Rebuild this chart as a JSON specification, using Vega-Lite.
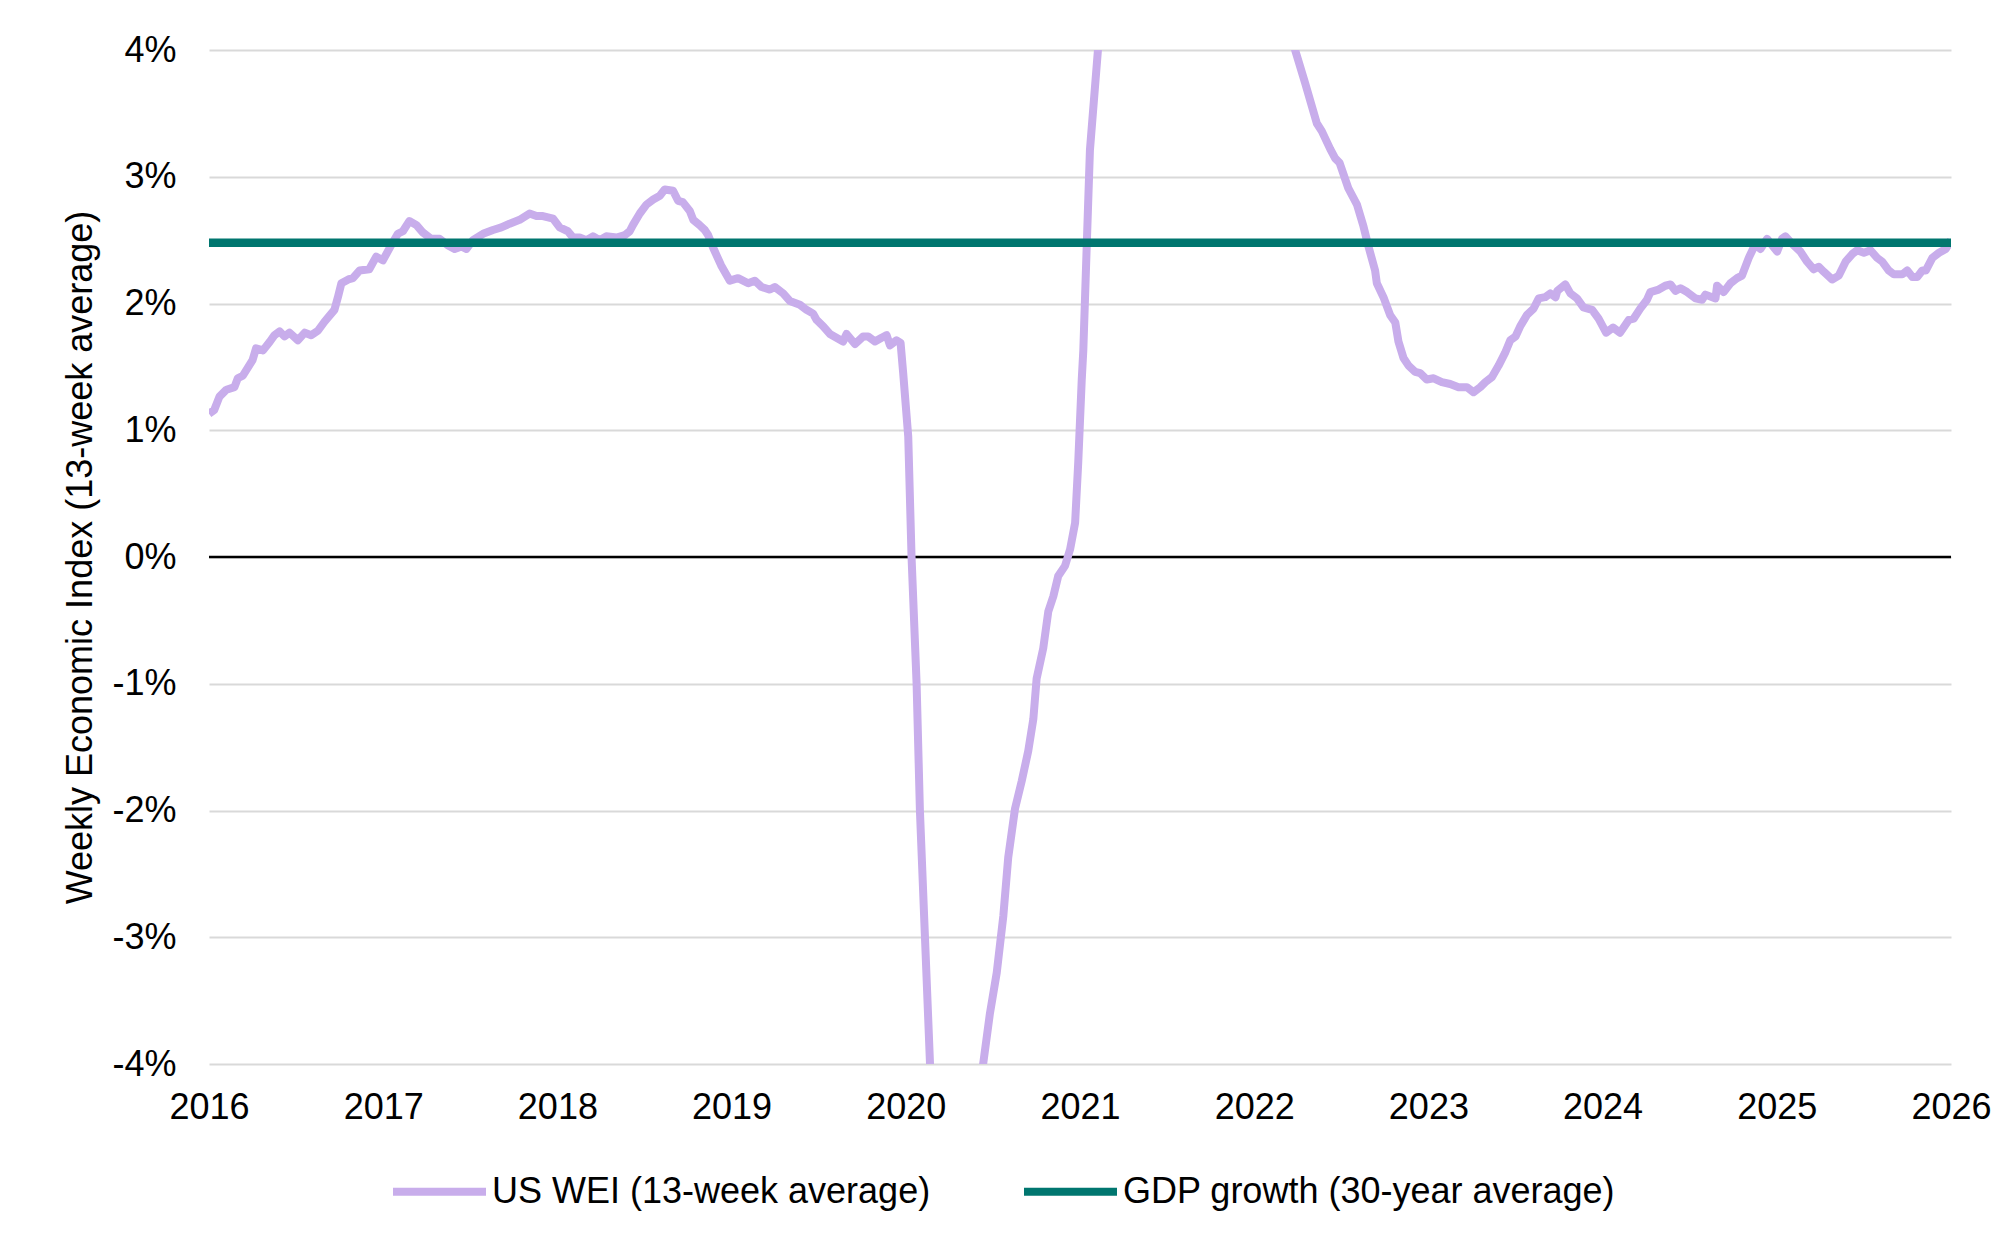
{
  "$schema": "https://vega.github.io/schema/vega-lite/v6.json",
  "width": 1742,
  "height": 1014,
  "autosize": {"type": "none"},
  "padding": {"left": 209, "top": 50, "right": 52, "bottom": 188},
  "background": "white",
  "datasets": {
    "wei": [
      {"year": 2016.0, "value": 1.13}, {"year": 2016.03, "value": 1.16}, {"year": 2016.06, "value": 1.265},
      {"year": 2016.1, "value": 1.32}, {"year": 2016.146, "value": 1.34}, {"year": 2016.165, "value": 1.41},
      {"year": 2016.194, "value": 1.43}, {"year": 2016.25, "value": 1.554}, {"year": 2016.27, "value": 1.646},
      {"year": 2016.31, "value": 1.63}, {"year": 2016.35, "value": 1.7}, {"year": 2016.376, "value": 1.75},
      {"year": 2016.405, "value": 1.78}, {"year": 2016.434, "value": 1.74}, {"year": 2016.462, "value": 1.77},
      {"year": 2016.51, "value": 1.71}, {"year": 2016.55, "value": 1.77}, {"year": 2016.587, "value": 1.75},
      {"year": 2016.625, "value": 1.785}, {"year": 2016.663, "value": 1.856}, {"year": 2016.72, "value": 1.95},
      {"year": 2016.74, "value": 2.05}, {"year": 2016.76, "value": 2.16}, {"year": 2016.8, "value": 2.19},
      {"year": 2016.826, "value": 2.2}, {"year": 2016.864, "value": 2.26}, {"year": 2016.92, "value": 2.27},
      {"year": 2016.96, "value": 2.37}, {"year": 2016.998, "value": 2.34}, {"year": 2017.046, "value": 2.46},
      {"year": 2017.084, "value": 2.55}, {"year": 2017.113, "value": 2.57}, {"year": 2017.15, "value": 2.65},
      {"year": 2017.19, "value": 2.62}, {"year": 2017.228, "value": 2.56}, {"year": 2017.276, "value": 2.51},
      {"year": 2017.324, "value": 2.51}, {"year": 2017.37, "value": 2.46}, {"year": 2017.41, "value": 2.43},
      {"year": 2017.449, "value": 2.45}, {"year": 2017.477, "value": 2.43}, {"year": 2017.515, "value": 2.5},
      {"year": 2017.573, "value": 2.55}, {"year": 2017.63, "value": 2.58}, {"year": 2017.678, "value": 2.6},
      {"year": 2017.726, "value": 2.63}, {"year": 2017.783, "value": 2.66}, {"year": 2017.84, "value": 2.71},
      {"year": 2017.88, "value": 2.69}, {"year": 2017.917, "value": 2.69}, {"year": 2017.975, "value": 2.67},
      {"year": 2018.013, "value": 2.6}, {"year": 2018.06, "value": 2.57}, {"year": 2018.09, "value": 2.52},
      {"year": 2018.128, "value": 2.52}, {"year": 2018.167, "value": 2.5}, {"year": 2018.204, "value": 2.53},
      {"year": 2018.243, "value": 2.5}, {"year": 2018.28, "value": 2.53}, {"year": 2018.34, "value": 2.52},
      {"year": 2018.387, "value": 2.54}, {"year": 2018.415, "value": 2.57}, {"year": 2018.434, "value": 2.62},
      {"year": 2018.473, "value": 2.71}, {"year": 2018.511, "value": 2.78}, {"year": 2018.55, "value": 2.82},
      {"year": 2018.588, "value": 2.85}, {"year": 2018.616, "value": 2.9}, {"year": 2018.664, "value": 2.89},
      {"year": 2018.693, "value": 2.81}, {"year": 2018.72, "value": 2.8}, {"year": 2018.76, "value": 2.73},
      {"year": 2018.78, "value": 2.66}, {"year": 2018.815, "value": 2.62}, {"year": 2018.846, "value": 2.58},
      {"year": 2018.865, "value": 2.54}, {"year": 2018.894, "value": 2.44}, {"year": 2018.94, "value": 2.3},
      {"year": 2018.99, "value": 2.18}, {"year": 2019.037, "value": 2.2}, {"year": 2019.095, "value": 2.16},
      {"year": 2019.133, "value": 2.18}, {"year": 2019.172, "value": 2.13}, {"year": 2019.22, "value": 2.11},
      {"year": 2019.248, "value": 2.13}, {"year": 2019.296, "value": 2.08}, {"year": 2019.334, "value": 2.02},
      {"year": 2019.392, "value": 1.99}, {"year": 2019.43, "value": 1.95}, {"year": 2019.468, "value": 1.92},
      {"year": 2019.488, "value": 1.87}, {"year": 2019.526, "value": 1.82}, {"year": 2019.564, "value": 1.76},
      {"year": 2019.602, "value": 1.73}, {"year": 2019.64, "value": 1.7}, {"year": 2019.66, "value": 1.76},
      {"year": 2019.708, "value": 1.68}, {"year": 2019.755, "value": 1.74}, {"year": 2019.784, "value": 1.74},
      {"year": 2019.823, "value": 1.7}, {"year": 2019.861, "value": 1.73}, {"year": 2019.89, "value": 1.75},
      {"year": 2019.909, "value": 1.67}, {"year": 2019.947, "value": 1.71}, {"year": 2019.97, "value": 1.69},
      {"year": 2019.985, "value": 1.45}, {"year": 2020.014, "value": 0.95}, {"year": 2020.033, "value": 0.0},
      {"year": 2020.062, "value": -1.0}, {"year": 2020.081, "value": -2.0}, {"year": 2020.11, "value": -3.0},
      {"year": 2020.139, "value": -4.0}, {"year": 2020.2, "value": -6.5}, {"year": 2020.28, "value": -8.8},
      {"year": 2020.35, "value": -7.5}, {"year": 2020.41, "value": -5.2}, {"year": 2020.444, "value": -4.0},
      {"year": 2020.483, "value": -3.6}, {"year": 2020.522, "value": -3.28}, {"year": 2020.56, "value": -2.83},
      {"year": 2020.588, "value": -2.37}, {"year": 2020.627, "value": -1.985}, {"year": 2020.665, "value": -1.77},
      {"year": 2020.703, "value": -1.53}, {"year": 2020.732, "value": -1.28}, {"year": 2020.751, "value": -0.96},
      {"year": 2020.789, "value": -0.72}, {"year": 2020.818, "value": -0.43}, {"year": 2020.847, "value": -0.31},
      {"year": 2020.875, "value": -0.15}, {"year": 2020.914, "value": -0.07}, {"year": 2020.943, "value": 0.06},
      {"year": 2020.972, "value": 0.27}, {"year": 2020.99, "value": 0.75}, {"year": 2021.01, "value": 1.4},
      {"year": 2021.019, "value": 1.63}, {"year": 2021.039, "value": 2.47}, {"year": 2021.057, "value": 3.21},
      {"year": 2021.103, "value": 4.0}, {"year": 2021.15, "value": 5.5}, {"year": 2021.3, "value": 8.0},
      {"year": 2021.45, "value": 9.0}, {"year": 2021.6, "value": 8.5}, {"year": 2021.8, "value": 7.0},
      {"year": 2022.0, "value": 5.6}, {"year": 2022.1, "value": 4.9}, {"year": 2022.2, "value": 4.25},
      {"year": 2022.235, "value": 4.0}, {"year": 2022.292, "value": 3.74}, {"year": 2022.36, "value": 3.42},
      {"year": 2022.388, "value": 3.36}, {"year": 2022.436, "value": 3.22}, {"year": 2022.465, "value": 3.145},
      {"year": 2022.49, "value": 3.11}, {"year": 2022.54, "value": 2.91}, {"year": 2022.59, "value": 2.78},
      {"year": 2022.627, "value": 2.61}, {"year": 2022.656, "value": 2.45}, {"year": 2022.694, "value": 2.26},
      {"year": 2022.704, "value": 2.16}, {"year": 2022.742, "value": 2.05}, {"year": 2022.78, "value": 1.91},
      {"year": 2022.81, "value": 1.85}, {"year": 2022.828, "value": 1.7}, {"year": 2022.857, "value": 1.57},
      {"year": 2022.886, "value": 1.51}, {"year": 2022.924, "value": 1.46}, {"year": 2022.953, "value": 1.45},
      {"year": 2022.991, "value": 1.4}, {"year": 2023.03, "value": 1.41}, {"year": 2023.077, "value": 1.38},
      {"year": 2023.125, "value": 1.365}, {"year": 2023.173, "value": 1.34}, {"year": 2023.221, "value": 1.34},
      {"year": 2023.259, "value": 1.3}, {"year": 2023.298, "value": 1.34}, {"year": 2023.327, "value": 1.38},
      {"year": 2023.365, "value": 1.42}, {"year": 2023.403, "value": 1.51}, {"year": 2023.44, "value": 1.61},
      {"year": 2023.47, "value": 1.71}, {"year": 2023.5, "value": 1.74}, {"year": 2023.527, "value": 1.82},
      {"year": 2023.566, "value": 1.91}, {"year": 2023.604, "value": 1.96}, {"year": 2023.633, "value": 2.04},
      {"year": 2023.67, "value": 2.05}, {"year": 2023.7, "value": 2.08}, {"year": 2023.73, "value": 2.05},
      {"year": 2023.74, "value": 2.1}, {"year": 2023.786, "value": 2.15}, {"year": 2023.815, "value": 2.08},
      {"year": 2023.853, "value": 2.04}, {"year": 2023.89, "value": 1.97}, {"year": 2023.94, "value": 1.95},
      {"year": 2023.977, "value": 1.88}, {"year": 2024.02, "value": 1.77}, {"year": 2024.06, "value": 1.81},
      {"year": 2024.1, "value": 1.77}, {"year": 2024.15, "value": 1.87}, {"year": 2024.178, "value": 1.88},
      {"year": 2024.216, "value": 1.96}, {"year": 2024.255, "value": 2.03}, {"year": 2024.274, "value": 2.09},
      {"year": 2024.322, "value": 2.11}, {"year": 2024.36, "value": 2.14}, {"year": 2024.39, "value": 2.15},
      {"year": 2024.418, "value": 2.1}, {"year": 2024.447, "value": 2.12}, {"year": 2024.485, "value": 2.09},
      {"year": 2024.533, "value": 2.04}, {"year": 2024.571, "value": 2.03}, {"year": 2024.59, "value": 2.07},
      {"year": 2024.648, "value": 2.04}, {"year": 2024.657, "value": 2.14}, {"year": 2024.695, "value": 2.09},
      {"year": 2024.734, "value": 2.16}, {"year": 2024.772, "value": 2.2}, {"year": 2024.8, "value": 2.22},
      {"year": 2024.839, "value": 2.36}, {"year": 2024.877, "value": 2.47}, {"year": 2024.906, "value": 2.43},
      {"year": 2024.944, "value": 2.51}, {"year": 2024.973, "value": 2.46}, {"year": 2025.002, "value": 2.41},
      {"year": 2025.03, "value": 2.51}, {"year": 2025.05, "value": 2.53}, {"year": 2025.088, "value": 2.47},
      {"year": 2025.135, "value": 2.41}, {"year": 2025.174, "value": 2.33}, {"year": 2025.212, "value": 2.27},
      {"year": 2025.24, "value": 2.29}, {"year": 2025.27, "value": 2.25}, {"year": 2025.318, "value": 2.19},
      {"year": 2025.356, "value": 2.22}, {"year": 2025.395, "value": 2.33}, {"year": 2025.433, "value": 2.39},
      {"year": 2025.462, "value": 2.42}, {"year": 2025.5, "value": 2.4}, {"year": 2025.538, "value": 2.42},
      {"year": 2025.576, "value": 2.36}, {"year": 2025.605, "value": 2.33}, {"year": 2025.643, "value": 2.26},
      {"year": 2025.672, "value": 2.23}, {"year": 2025.72, "value": 2.23}, {"year": 2025.749, "value": 2.26},
      {"year": 2025.778, "value": 2.21}, {"year": 2025.807, "value": 2.21}, {"year": 2025.835, "value": 2.26},
      {"year": 2025.855, "value": 2.26}, {"year": 2025.893, "value": 2.36}, {"year": 2025.931, "value": 2.4},
      {"year": 2025.97, "value": 2.43}, {"year": 2026.0, "value": 2.5}
    ],
    "gdp": [
      {"year": 2016, "value": 2.48},
      {"year": 2026, "value": 2.48}
    ],
    "zero": [
      {"value": 0}
    ]
  },
  "encoding": {
    "x": {
      "field": "year",
      "type": "quantitative",
      "scale": {"domain": [2016, 2026], "nice": false, "zero": false},
      "axis": {
        "values": [2016, 2017, 2018, 2019, 2020, 2021, 2022, 2023, 2024, 2025, 2026],
        "format": "d",
        "title": null,
        "grid": false,
        "domain": false,
        "ticks": false,
        "tickSize": 0,
        "labelPadding": 26,
        "labelFlush": false,
        "labelOverlap": false
      }
    },
    "y": {
      "field": "value",
      "type": "quantitative",
      "scale": {"domain": [-4, 4], "nice": false, "zero": false},
      "axis": {
        "values": [-4, -3, -2, -1, 0, 1, 2, 3, 4],
        "labelExpr": "datum.value + '%'",
        "title": "Weekly Economic Index (13-week average)",
        "grid": true,
        "gridColor": "#d9d9d9",
        "gridWidth": 2,
        "domain": false,
        "ticks": false,
        "tickSize": 0,
        "labelPadding": 33,
        "titlePadding": 12,
        "labelOverlap": false
      }
    }
  },
  "layer": [
    {
      "data": {"name": "zero"},
      "mark": {"type": "rule", "color": "#000000", "strokeWidth": 2.5},
      "encoding": {"x": null}
    },
    {
      "data": {"name": "wei"},
      "mark": {"type": "line", "strokeWidth": 8, "clip": true, "strokeJoin": "round"},
      "encoding": {"color": {"datum": "US WEI (13-week average)"}}
    },
    {
      "data": {"name": "gdp"},
      "mark": {"type": "line", "strokeWidth": 8.5},
      "encoding": {
        "color": {
          "datum": "GDP growth (30-year average)",
          "scale": {
            "domain": ["US WEI (13-week average)", "GDP growth (30-year average)"],
            "range": ["#c8adeb", "#00766f"]
          },
          "legend": {
            "title": null,
            "orient": "none",
            "direction": "horizontal",
            "legendX": 180,
            "legendY": 1091,
            "symbolType": "stroke",
            "symbolSize": 8649,
            "symbolStrokeWidth": 8,
            "labelOffset": 2,
            "columnPadding": 77,
            "labelLimit": 800,
            "padding": 0
          }
        }
      }
    }
  ],
  "config": {
    "view": {"stroke": null},
    "font": "Liberation Sans",
    "axis": {
      "labelFont": "Liberation Sans",
      "labelFontSize": 36,
      "labelColor": "#000000",
      "titleFont": "Liberation Sans",
      "titleFontSize": 36,
      "titleFontWeight": "normal",
      "titleColor": "#000000"
    },
    "legend": {
      "labelFont": "Liberation Sans",
      "labelFontSize": 36,
      "labelColor": "#000000"
    }
  }
}
